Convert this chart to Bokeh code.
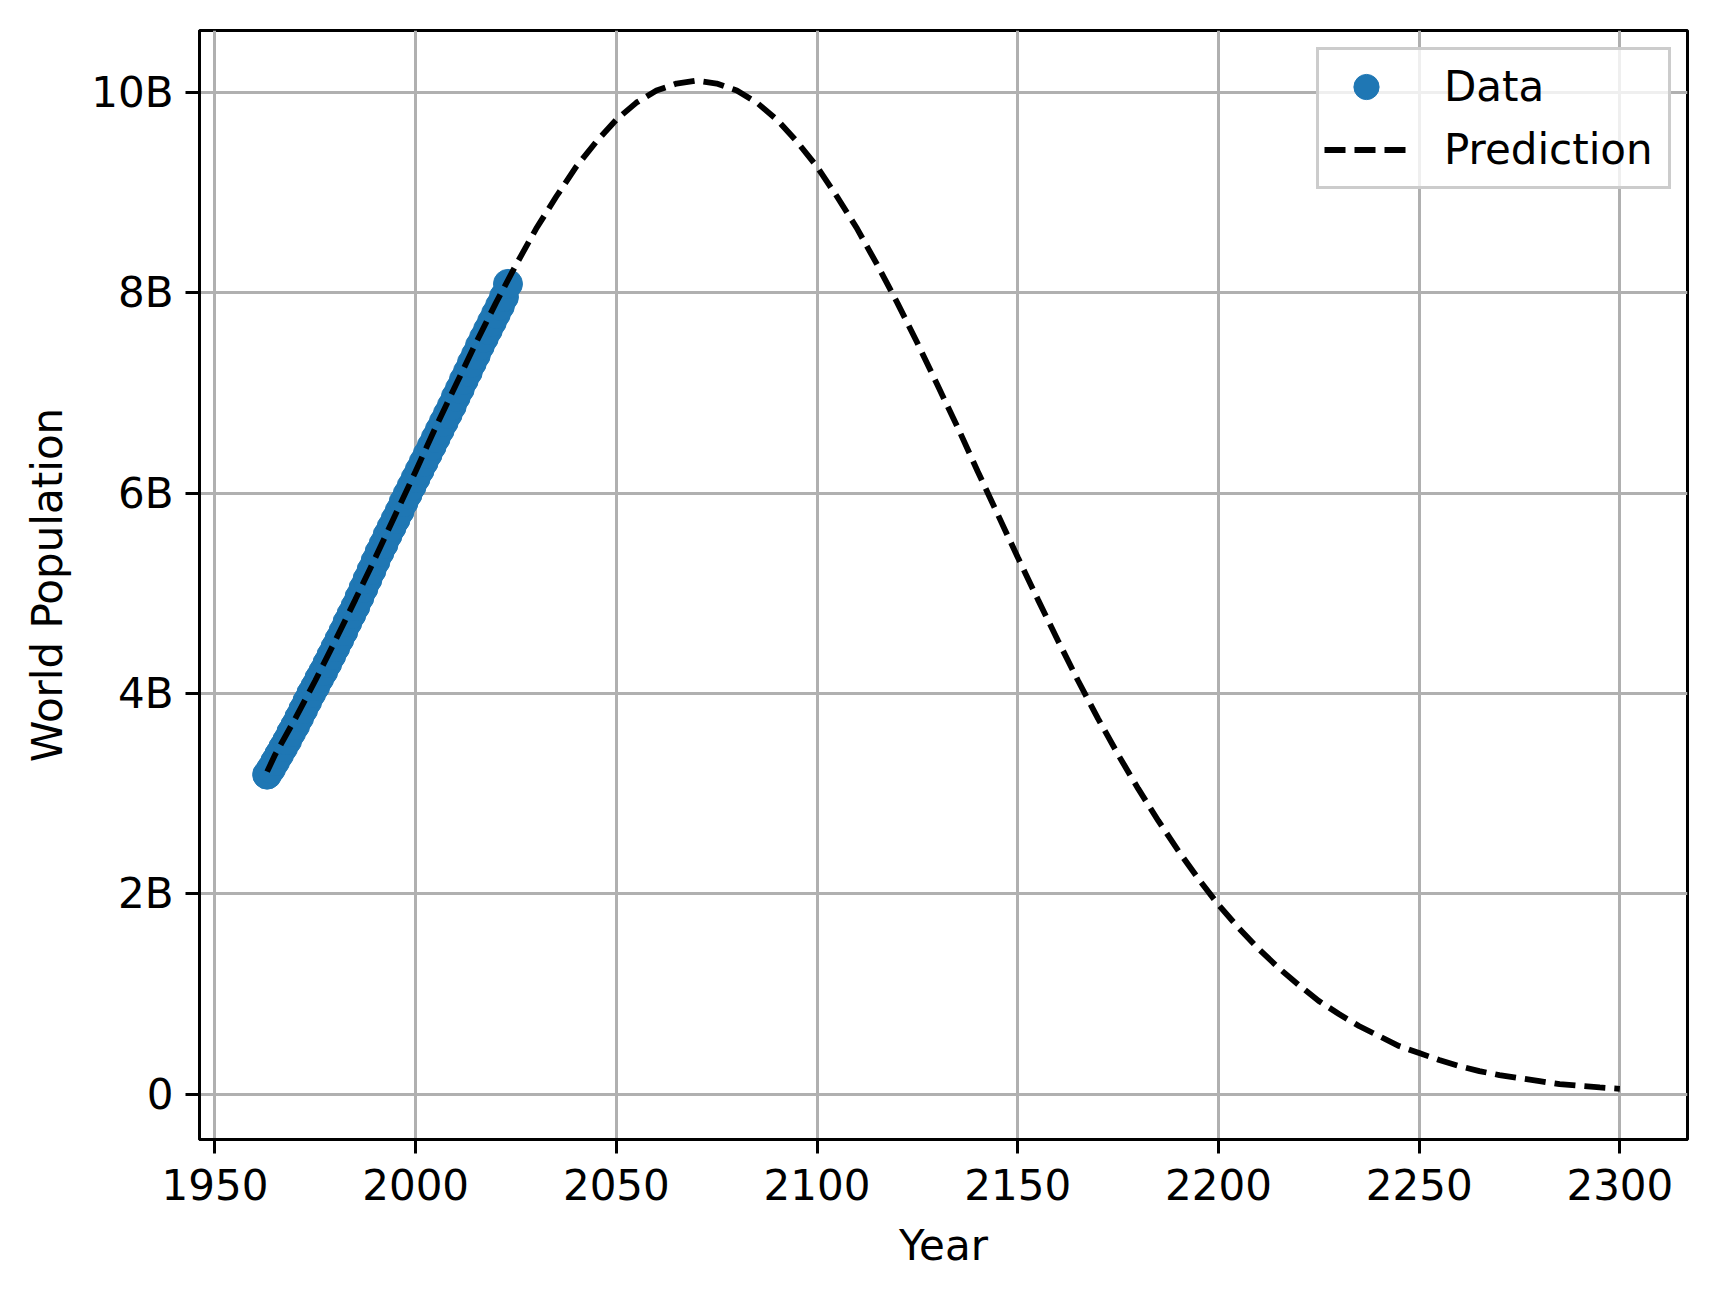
from bokeh.plotting import figure
from bokeh.models import Range1d, FixedTicker, Legend, LegendItem, ColumnDataSource
from bokeh.embed import file_html
from bokeh.resources import INLINE

# Observed world population (billions)
data_years = list(range(1963, 2024))
data_pop = [3.19, 3.25, 3.32, 3.39, 3.46, 3.53, 3.61, 3.68, 3.76, 3.84,
            3.92, 4.00, 4.07, 4.15, 4.22, 4.30, 4.38, 4.46, 4.54, 4.62,
            4.71, 4.79, 4.87, 4.96, 5.05, 5.14, 5.23, 5.32, 5.41, 5.49,
            5.58, 5.66, 5.74, 5.82, 5.91, 5.99, 6.07, 6.15, 6.23, 6.31,
            6.39, 6.47, 6.55, 6.63, 6.71, 6.79, 6.87, 6.96, 7.04, 7.13,
            7.21, 7.30, 7.38, 7.47, 7.55, 7.63, 7.71, 7.79, 7.87, 7.96, 8.09]

# Prediction curve (billions)
pred_years = [1963, 1965] + list(range(1970, 2305, 5))
pred_pop = [3.22, 3.39, 3.75, 4.13, 4.53, 4.94, 5.36, 5.79, 6.22, 6.66,
            7.08, 7.50, 7.90, 8.28, 8.64, 8.96, 9.26, 9.51, 9.73, 9.90,
            10.02, 10.09, 10.12, 10.09, 10.02, 9.90, 9.73, 9.51, 9.26, 8.96,
            8.64, 8.28, 7.90, 7.50, 7.08, 6.66, 6.22, 5.79, 5.36, 4.94,
            4.53, 4.13, 3.75, 3.39, 3.05, 2.73, 2.43, 2.15, 1.89, 1.66,
            1.45, 1.26, 1.09, 0.93, 0.80, 0.68, 0.58, 0.48, 0.41, 0.34,
            0.28, 0.23, 0.19, 0.16, 0.13, 0.10, 0.083, 0.067, 0.053]

x_ticks = [1950, 2000, 2050, 2100, 2150, 2200, 2250, 2300]
y_ticks = [0, 2, 4, 6, 8, 10]
y_tick_labels = ["0", "2B", "4B", "6B", "8B", "10B"]

FONT = "DejaVu Sans"
FS = "42px"

p = figure(frame_width=1488, frame_height=1109,
           x_range=Range1d(1946.15, 2316.85), y_range=Range1d(-0.453, 10.62),
           output_backend="svg", toolbar_location=None,
           min_border_left=199, min_border_top=30, min_border_right=20,
           min_border_bottom=130)

p.background_fill_color = "white"
p.border_fill_color = "white"
p.outline_line_color = "black"
p.outline_line_width = 3
p.outline_line_alpha = 1.0

p.grid.grid_line_color = "#b0b0b0"
p.grid.grid_line_width = 3
p.grid.grid_line_alpha = 1.0

p.xaxis.ticker = FixedTicker(ticks=x_ticks)
p.yaxis.ticker = FixedTicker(ticks=y_ticks)
p.yaxis.major_label_overrides = {t: l for t, l in zip(y_ticks, y_tick_labels)}

for ax in (p.xaxis, p.yaxis):
    ax.axis_line_color = "black"
    ax.axis_line_width = 3
    ax.major_tick_line_color = "black"
    ax.major_tick_line_width = 3
    ax.major_tick_out = 14
    ax.major_tick_in = 0
    ax.minor_tick_out = 0
    ax.minor_tick_in = 0
    ax.major_label_text_font = FONT
    ax.major_label_text_font_size = FS
    ax.major_label_text_color = "black"
    ax.axis_label_text_font = FONT
    ax.axis_label_text_font_size = FS
    ax.axis_label_text_font_style = "normal"
    ax.axis_label_text_color = "black"

p.xaxis.major_label_standoff = 15
p.yaxis.major_label_standoff = 12
p.xaxis.axis_label = "Year"
p.yaxis.axis_label = "World Population"
p.xaxis.axis_label_standoff = 18
p.yaxis.axis_label_standoff = 16

src_data = ColumnDataSource(dict(x=data_years, y=data_pop))
src_pred = ColumnDataSource(dict(x=pred_years, y=pred_pop))

r_data = p.scatter("x", "y", source=src_data, size=29, marker="circle",
                   fill_color="#1f77b4", line_color="#1f77b4")
r_pred = p.line("x", "y", source=src_pred, line_color="black",
                line_width=5.8, line_dash="21 9")

legend = Legend(items=[LegendItem(label="Data", renderers=[r_data]),
                       LegendItem(label="Prediction", renderers=[r_pred])],
                location=(1117, 950))
legend.margin = 0
legend.padding = 5
legend.spacing = 0
legend.glyph_width = 84
legend.glyph_height = 63
legend.label_height = 40
legend.label_width = 219
legend.label_standoff = 36
legend.label_text_font = FONT
legend.label_text_font_size = FS
legend.label_text_color = "black"
legend.border_line_color = "#cccccc"
legend.border_line_width = 3
legend.border_line_alpha = 1.0
legend.background_fill_color = "white"
legend.background_fill_alpha = 0.8
p.add_layout(legend)

open("out.html", "w").write(file_html(p, INLINE))
